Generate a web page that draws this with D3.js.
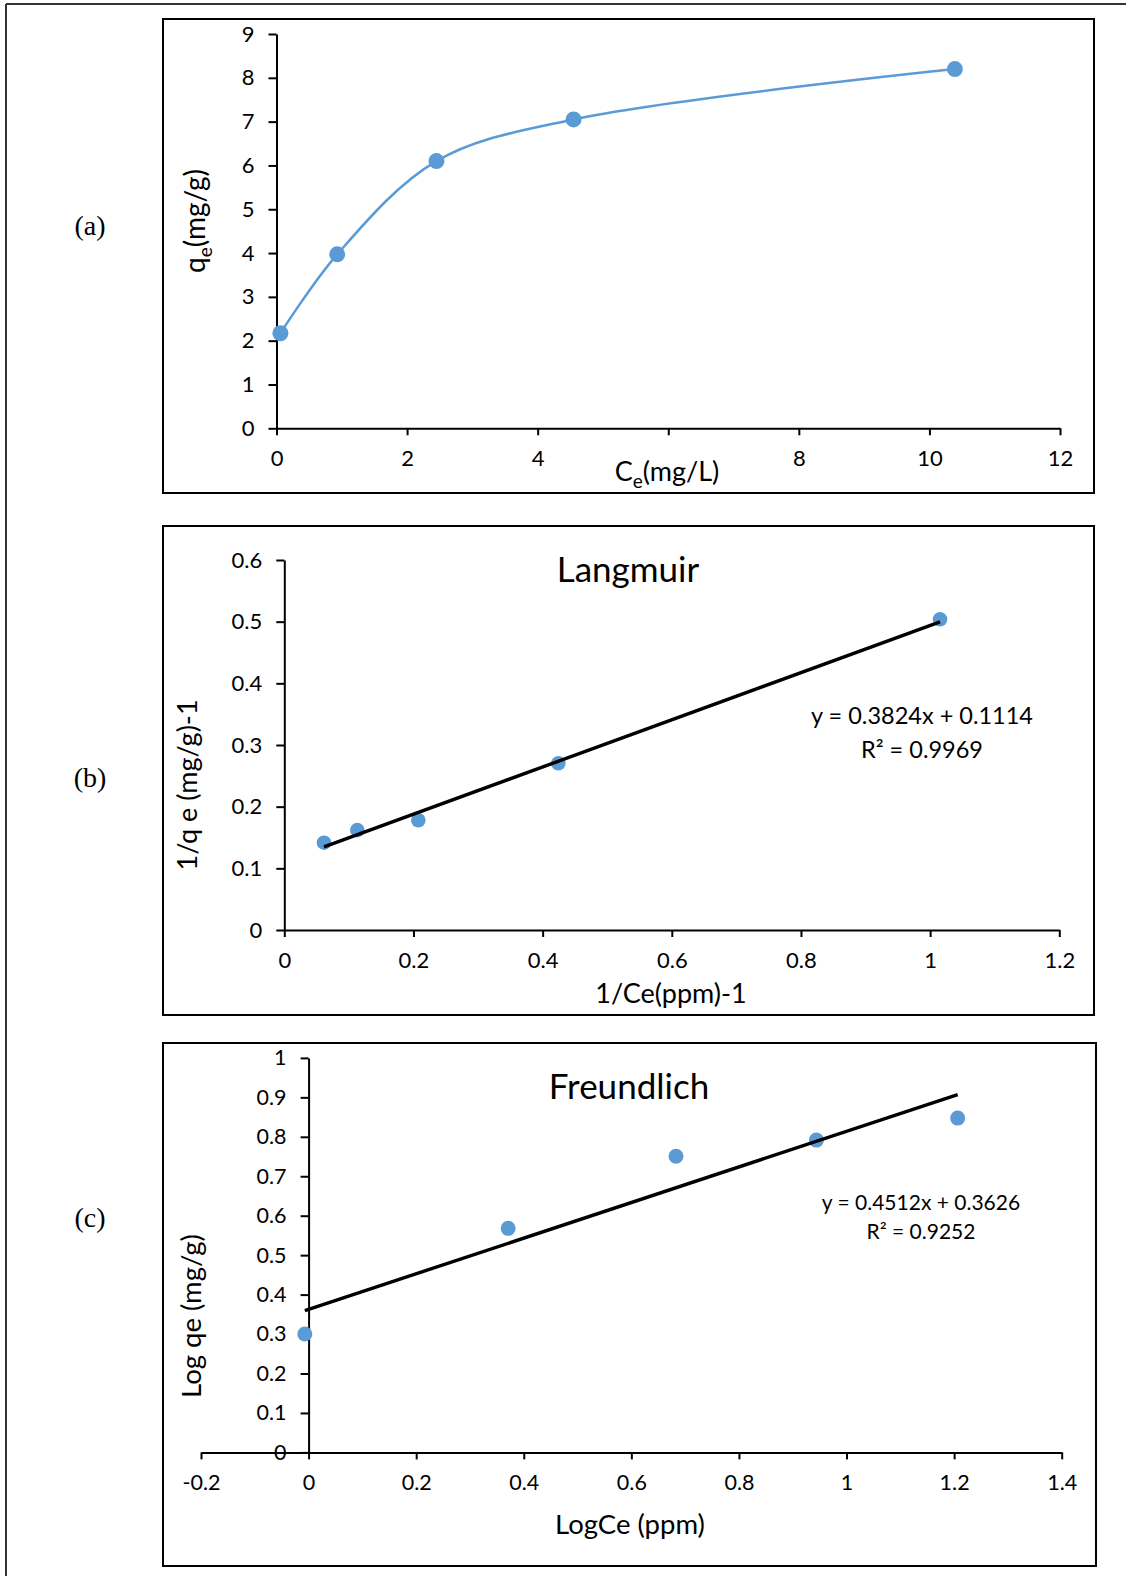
<!DOCTYPE html>
<html>
<head>
<meta charset="utf-8">
<script src="https://cdn.jsdelivr.net/npm/d3@7"></script>
<style>
  body { margin: 0; background: #fff; }
  svg text { font-family: Lato, "Open Sans", sans-serif; fill: #000; }
  .axis path, .axis line { stroke: #000; stroke-width: 2; }
  .axis text { font-family: Lato, "Open Sans", sans-serif; fill: #000; }
</style>
</head>
<body>
<script>
// (a) isotherm
var ceA = [0.06, 0.93, 2.45, 4.55, 10.39];
var qeA = [2.17, 3.97, 6.10, 7.05, 8.20];
var ticksAX = [0, 2, 4, 6, 8, 10, 12];
var ticksAY = [0, 1, 2, 3, 4, 5, 6, 7, 8, 9];

// (b) Langmuir
var invCeB = [0.0615, 0.113, 0.2075, 0.4243, 1.0153];
var invQeB = [0.1416, 0.162, 0.178, 0.2703, 0.5038];
var fitB = [0.3824, 0.1114];
var ticksBX = [0, 0.2, 0.4, 0.6, 0.8, 1, 1.2];
var ticksBY = [0, 0.1, 0.2, 0.3, 0.4, 0.5, 0.6];

// (c) Freundlich
var logCeC = [-0.007, 0.371, 0.683, 0.944, 1.2066];
var logQeC = [0.300, 0.568, 0.7506, 0.7917, 0.8474];
var fitC = [0.4512, 0.3626];
var ticksCX = [-0.2, 0, 0.2, 0.4, 0.6, 0.8, 1, 1.2, 1.4];
var ticksCY = [0, 0.1, 0.2, 0.3, 0.4, 0.5, 0.6, 0.7, 0.8, 0.9, 1];

var blue = "#5b9bd5";
var fmt = function (d) { return String(d); };

var svg = d3.select("body").append("svg")
  .attr("width", 1126)
  .attr("height", 1576);

// outer frame (top and left only are visible)
svg.append("line").attr("x1", 6).attr("x2", 1126).attr("y1", 4).attr("y2", 4)
  .attr("stroke", "#333").attr("stroke-width", 2);
svg.append("line").attr("x1", 6).attr("x2", 6).attr("y1", 4).attr("y2", 1576)
  .attr("stroke", "#333").attr("stroke-width", 2);

function box(x0, y0, x1, y1) {
  svg.append("rect")
    .attr("x", x0).attr("y", y0)
    .attr("width", x1 - x0).attr("height", y1 - y0)
    .attr("fill", "none").attr("stroke", "#000").attr("stroke-width", 2);
}

function panelLabel(txt, x, y) {
  svg.append("text").attr("x", x).attr("y", y)
    .attr("text-anchor", "middle")
    .style("font-family", "'Liberation Serif', 'Times New Roman', serif")
    .style("font-size", "28px")
    .text(txt);
}

function axes(x, y, xt, yt, fs, xFmt) {
  var gx = svg.append("g").attr("class", "axis")
    .attr("transform", "translate(0," + y(0) + ")")
    .call(d3.axisBottom(x).tickValues(xt).tickSize(7).tickSizeOuter(0)
      .tickPadding(15).tickFormat(xFmt || fmt));
  var gy = svg.append("g").attr("class", "axis")
    .attr("transform", "translate(" + x(0) + ",0)")
    .call(d3.axisLeft(y).tickValues(yt).tickSize(8).tickSizeOuter(0)
      .tickPadding(14).tickFormat(fmt));
  gx.selectAll("text").style("font-size", fs + "px");
  gy.selectAll("text").style("font-size", fs + "px");
}

function dots(x, y, xs, ys, r) {
  svg.append("g").selectAll("circle")
    .data(xs)
    .enter()
    .append("circle")
    .attr("cx", function (d) { return x(d); })
    .attr("cy", function (d, i) { return y(ys[i]); })
    .attr("r", r)
    .attr("fill", blue);
}

function trend(x, y, xs, fit) {
  var ends = [d3.min(xs), d3.max(xs)];
  svg.append("line")
    .attr("x1", x(ends[0])).attr("y1", y(fit[0] * ends[0] + fit[1]))
    .attr("x2", x(ends[1])).attr("y2", y(fit[0] * ends[1] + fit[1]))
    .attr("stroke", "#000").attr("stroke-width", 3.4);
}

// ---------- (a) ----------
box(163, 19, 1094, 493);
panelLabel("(a)", 90, 235);
var xa = d3.scaleLinear().domain([0, 12]).range([276.5, 1060]);
var ya = d3.scaleLinear().domain([0, 9]).range([428.3, 34]);
axes(xa, ya, ticksAX, ticksAY, 22, function (d) { return d === 6 ? "" : String(d); });

var line = d3.line()
  .x(function (d) { return xa(d); })
  .y(function (d, i) { return ya(qeA[i]); })
  .curve(d3.curveCatmullRom);
svg.append("path").datum(ceA).attr("d", line)
  .attr("fill", "none").attr("stroke", blue).attr("stroke-width", 2.5);
dots(xa, ya, ceA, qeA, 8);

var ta = svg.append("text")
  .attr("transform", "translate(205,221) rotate(-90)")
  .attr("text-anchor", "middle")
  .style("font-size", "28px");
ta.append("tspan").text("q");
ta.append("tspan").attr("dy", 7).style("font-size", "19px").text("e");
ta.append("tspan").attr("dy", -7).text("(mg/g)");

var tx = svg.append("text")
  .attr("x", 667).attr("y", 481)
  .attr("text-anchor", "middle")
  .style("font-size", "27px");
tx.append("tspan").text("C");
tx.append("tspan").attr("dy", 7).style("font-size", "19px").text("e");
tx.append("tspan").attr("dy", -7).text("(mg/L)");

// ---------- (b) ----------
box(163, 526, 1094, 1015);
panelLabel("(b)", 90, 787);
var xb = d3.scaleLinear().domain([0, 1.2]).range([284.3, 1059.3]);
var yb = d3.scaleLinear().domain([0, 0.6]).range([930, 560]);
axes(xb, yb, ticksBX, ticksBY, 22);
dots(xb, yb, invCeB, invQeB, 7.3);
trend(xb, yb, invCeB, fitB);

svg.append("text").attr("x", 628).attr("y", 582)
  .attr("text-anchor", "middle").style("font-size", "35px").text("Langmuir");
svg.append("text").attr("x", 922).attr("y", 724)
  .attr("text-anchor", "middle").style("font-size", "23.5px")
  .text("y = " + fitB[0] + "x + " + fitB[1]);
svg.append("text").attr("x", 922).attr("y", 758)
  .attr("text-anchor", "middle").style("font-size", "23.5px")
  .text("R\u00b2 = 0.9969");
svg.append("text")
  .attr("transform", "translate(197,785) rotate(-90)")
  .attr("text-anchor", "middle").style("font-size", "27px")
  .text("1/q e (mg/g)-1");
svg.append("text").attr("x", 671).attr("y", 1003)
  .attr("text-anchor", "middle").style("font-size", "27px")
  .text("1/Ce(ppm)-1");

// ---------- (c) ----------
box(163, 1043, 1096, 1566);
panelLabel("(c)", 90, 1227);
var xc = d3.scaleLinear().domain([-0.2, 1.4]).range([201, 1061.7]);
var yc = d3.scaleLinear().domain([0, 1]).range([1452.4, 1057.9]);
axes(xc, yc, ticksCX, ticksCY, 21.5);
dots(xc, yc, logCeC, logQeC, 7.5);
trend(xc, yc, logCeC, fitC);

svg.append("text").attr("x", 629).attr("y", 1099)
  .attr("text-anchor", "middle").style("font-size", "35px").text("Freundlich");
svg.append("text").attr("x", 921).attr("y", 1210)
  .attr("text-anchor", "middle").style("font-size", "21px")
  .text("y = " + fitC[0] + "x + " + fitC[1]);
svg.append("text").attr("x", 921).attr("y", 1239)
  .attr("text-anchor", "middle").style("font-size", "21px")
  .text("R\u00b2 = 0.9252");
svg.append("text")
  .attr("transform", "translate(201,1316) rotate(-90)")
  .attr("text-anchor", "middle").style("font-size", "27.5px")
  .text("Log qe (mg/g)");
svg.append("text").attr("x", 630).attr("y", 1534)
  .attr("text-anchor", "middle").style("font-size", "27.5px")
  .text("LogCe (ppm)");
</script>
</body>
</html>
